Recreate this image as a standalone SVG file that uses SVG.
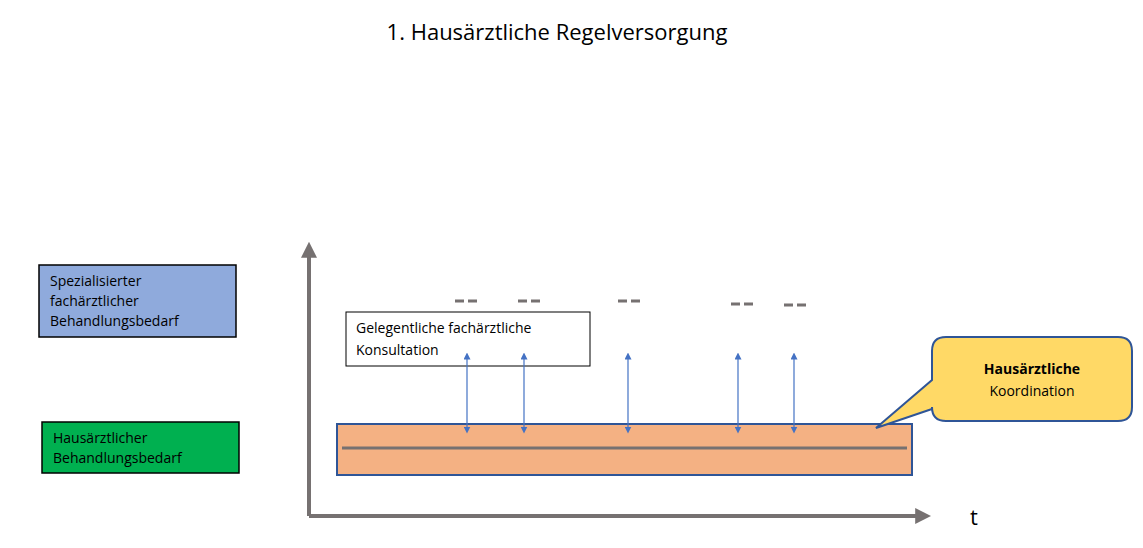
<svg xmlns="http://www.w3.org/2000/svg" width="1143" height="548" viewBox="0 0 1143 548">
<style>
text{font-family:"Open Sans","Noto Sans","Liberation Sans",sans-serif;fill:#000}
.lbl{font-size:14px}
.axis{stroke:#767171;stroke-width:4;fill:none}
.dash{stroke:#767171;stroke-width:3;stroke-dasharray:9,4}
.arr{stroke:#4472C4;stroke-width:1.2;marker-start:url(#ah);marker-end:url(#ah)}
</style>
<defs>
<marker id="ah" viewBox="0 0 10 10" refX="5" refY="5" markerWidth="7" markerHeight="7" orient="auto-start-reverse" markerUnits="userSpaceOnUse"><path d="M0,0L10,5L0,10z" fill="#4472C4"/></marker>
<marker id="ax" viewBox="0 0 10 10" refX="3" refY="5" markerWidth="4" markerHeight="4" orient="auto"><path d="M0,0L10,5L0,10z" fill="#767171"/></marker>
</defs>
<rect width="1143" height="548" fill="#fff"/>
<text x="557" y="40" font-size="22" text-anchor="middle">1. Hausärztliche Regelversorgung</text>
<g id="spezial"><rect x="39" y="265" width="197" height="72" fill="#8FAADC" stroke="#000" stroke-width="1.5"/>
<text class="lbl" x="50" y="286">Spezialisierter</text><text class="lbl" x="50" y="306">fachärztlicher</text><text class="lbl" x="50" y="326">Behandlungsbedarf</text></g>
<g id="haus"><rect x="42" y="422" width="197" height="51" fill="#00B050" stroke="#000" stroke-width="1.5"/>
<text class="lbl" x="53" y="443">Hausärztlicher</text><text class="lbl" x="53" y="463">Behandlungsbedarf</text></g>
<g id="axes"><path class="axis" d="M309,516V253" marker-end="url(#ax)"/><path class="axis" d="M309,516H920" marker-end="url(#ax)"/>
<text x="970" y="525" font-size="22">t</text></g>
<g id="band"><rect x="337" y="424" width="575" height="51" fill="#F4B183" stroke="#2F5597" stroke-width="2"/>
<line x1="342" y1="448" x2="907" y2="448" stroke="#767171" stroke-width="3"/></g>
<g id="konsultation"><rect x="346" y="312" width="244" height="54" fill="#fff" stroke="#000" stroke-width="1"/>
<text class="lbl" x="356" y="333">Gelegentliche fachärztliche</text><text class="lbl" x="356" y="355">Konsultation</text></g>
<g id="dashes">
<line class="dash" x1="455" y1="301" x2="477" y2="301"/><line class="dash" x1="518" y1="301" x2="540" y2="301"/>
<line class="dash" x1="618" y1="301" x2="640" y2="301"/><line class="dash" x1="731" y1="304" x2="753" y2="304"/>
<line class="dash" x1="784" y1="305" x2="806" y2="305"/></g>
<g id="connectors">
<line class="arr" x1="467" y1="356" x2="467" y2="430"/><line class="arr" x1="524" y1="356" x2="524" y2="430"/>
<line class="arr" x1="628" y1="356" x2="628" y2="430"/><line class="arr" x1="738" y1="356" x2="738" y2="430"/>
<line class="arr" x1="794" y1="356" x2="794" y2="430"/></g>
<g id="callout"><path d="M946,337H1118Q1132,337 1132,351V407Q1132,421 1118,421H946Q932,421 932,407V409L876,428L932,380V351Q932,337 946,337Z" fill="#FFD966" stroke="#2F5597" stroke-width="2"/>
<text class="lbl" x="1032" y="374" text-anchor="middle" font-weight="bold">Hausärztliche</text>
<text class="lbl" x="1032" y="396" text-anchor="middle">Koordination</text></g>
</svg>
